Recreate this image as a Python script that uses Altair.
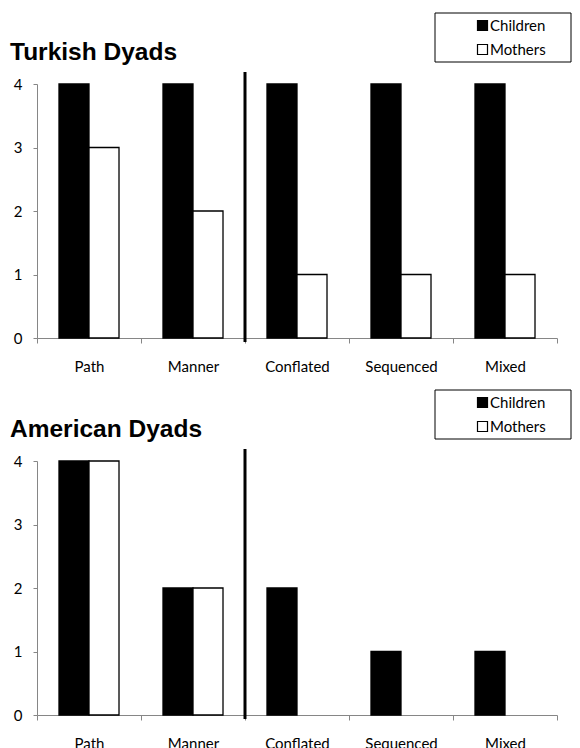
import altair as alt
import pandas as pd

categories = ["Path", "Manner", "Conflated", "Sequenced", "Mixed"]
series = ["Children", "Mothers"]
turkish_children = [4, 4, 4, 4, 4]
turkish_mothers = [3, 2, 1, 1, 1]
american_children = [4, 2, 2, 1, 1]
american_mothers = [4, 2, 0, 0, 0]
y_ticks = [0, 1, 2, 3, 4]
separator_before = "Conflated"
titles = ["Turkish Dyads", "American Dyads"]


def frame(ch, mo):
    rows = []
    for c, a, b in zip(categories, ch, mo):
        rows.append({"cat": c, "series": series[0], "value": a})
        rows.append({"cat": c, "series": series[1], "value": b})
    return pd.DataFrame(rows)


W, H = 520, 254
AXC = "#868686"


def panel(title, df):
    box = alt.Chart(pd.DataFrame({"k": [0]})).mark_rect(
        fill="white", stroke="black", strokeWidth=1
    ).encode(x=alt.value(398), x2=alt.value(534), y=alt.value(-71), y2=alt.value(-22))
    bars = alt.Chart(df).transform_filter("datum.value > 0").mark_bar(
        stroke="black", strokeWidth=1.3
    ).encode(
        x=alt.X(
            "cat:N", sort=categories,
            scale=alt.Scale(domain=categories, paddingInner=0, paddingOuter=0),
            axis=alt.Axis(title=None, labelAngle=0, tickBand="extent", tickSize=5,
                          labelPadding=16, domainColor=AXC, tickColor=AXC,
                          labelFont="Lato", labelFontSize=15, labelColor="black",
                          grid=False),
        ),
        xOffset=alt.XOffset("series:N", sort=series,
                            scale=alt.Scale(domain=series, paddingInner=0, paddingOuter=0.733)),
        y=alt.Y("value:Q", scale=alt.Scale(domain=[0, 4], nice=False),
                axis=alt.Axis(title=None, values=y_ticks, tickSize=4, labelPadding=11,
                              domainColor=AXC, tickColor=AXC, labelFont="Lato",
                              labelFontSize=15, labelColor="black", grid=False)),
        color=alt.Color(
            "series:N", sort=series,
            scale=alt.Scale(domain=series, range=["black", "white"]),
            legend=alt.Legend(
                title=None, orient="none", legendX=398, legendY=-71,
                padding=5,
                symbolType="square", symbolSize=100, symbolStrokeColor="black",
                symbolStrokeWidth=1.2, symbolOffset=35, labelOffset=0,
                labelFont="Lato", labelFontSize=15, labelColor="black",
                rowPadding=8, labelLimit=400,
            ),
        ),
    )
    sep = alt.Chart(pd.DataFrame({"cat": [separator_before]})).mark_rule(
        color="black", strokeWidth=3
    ).encode(
        x=alt.X("cat:N", sort=categories, bandPosition=0, title=None),
        y=alt.value(-12),
        y2=alt.value(H + 4),
    )
    ttl = alt.Chart(pd.DataFrame({"t": [title]})).mark_text(
        align="left", baseline="alphabetic", font="Liberation Sans",
        fontSize=24.5, fontWeight="bold", color="black"
    ).encode(x=alt.value(-27), y=alt.value(-24), text="t:N")
    return alt.layer(box, bars, sep, ttl).properties(width=W, height=H)


top = panel(titles[0], frame(turkish_children, turkish_mothers))
bottom = panel(titles[1], frame(american_children, american_mothers))

chart = alt.vconcat(top, bottom, spacing=15).resolve_scale(
    color="independent"
).resolve_legend(color="independent").properties(
    padding={"left": 2, "top": 4, "right": 0, "bottom": 0}
).configure_view(stroke=None)

chart.save("out.html", embed_options={"renderer": "svg", "actions": False})
